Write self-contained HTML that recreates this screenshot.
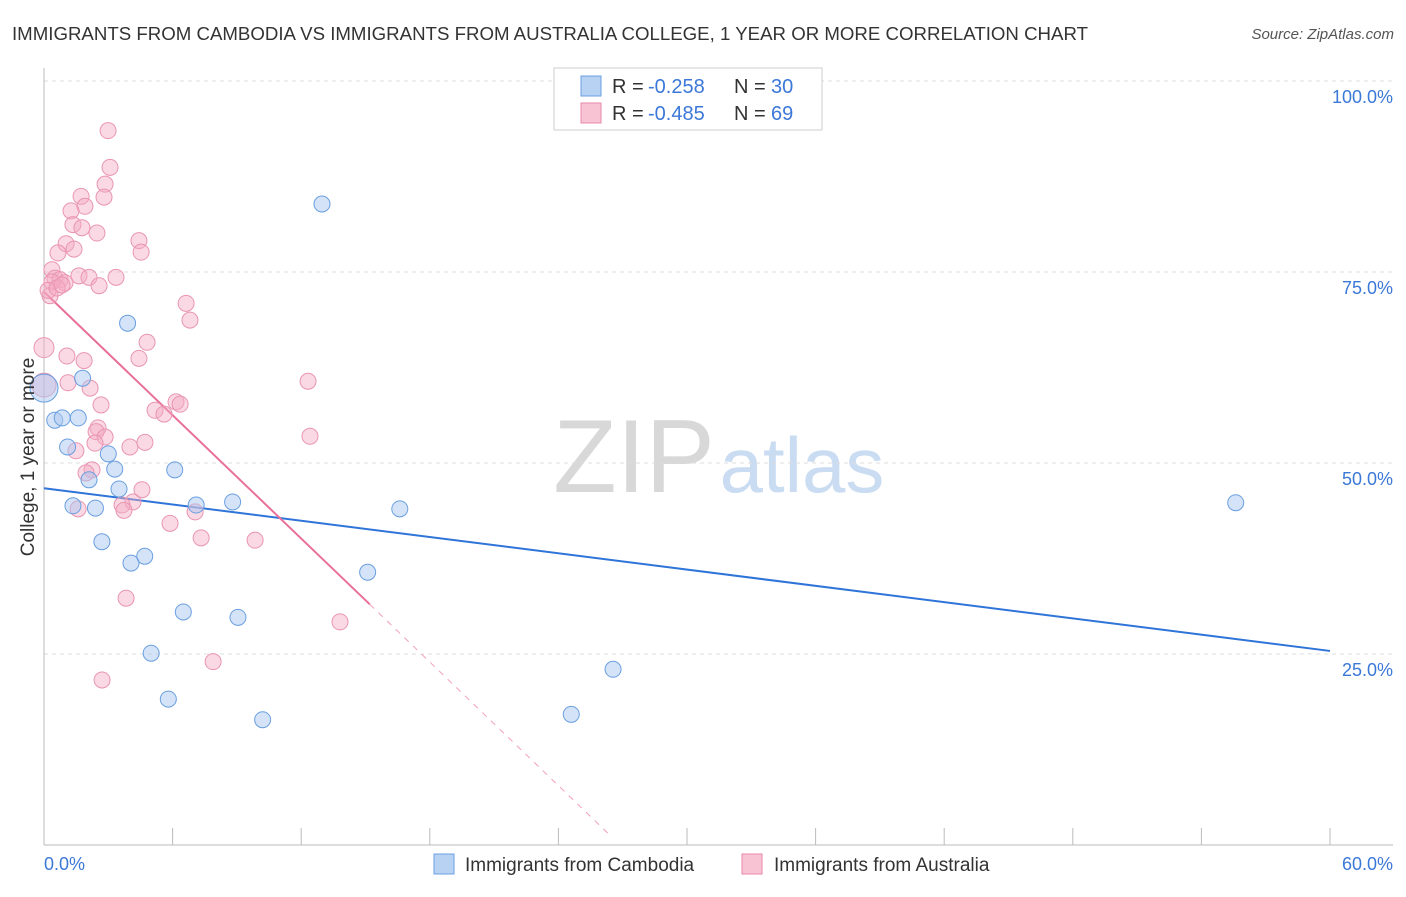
<!DOCTYPE html>
<html><head><meta charset="utf-8"><style>
body{margin:0;background:#fff;font-family:"Liberation Sans",sans-serif;}
svg text{font-family:"Liberation Sans",sans-serif;}
</style></head><body>
<svg id="chart" width="1406" height="892" xmlns="http://www.w3.org/2000/svg">
<text x="12" y="40" font-size="18" fill="#333" textLength="1076" lengthAdjust="spacingAndGlyphs">IMMIGRANTS FROM CAMBODIA VS IMMIGRANTS FROM AUSTRALIA COLLEGE, 1 YEAR OR MORE CORRELATION CHART</text>
<text x="1394" y="39" font-size="15" fill="#555" text-anchor="end" font-style="italic">Source: ZipAtlas.com</text>
<g>
<text x="634" y="492" font-size="104" fill="#d8d8d8" font-family="Liberation Serif" text-anchor="middle">ZIP</text>
<text x="802" y="492" font-size="78" fill="#c9dcf2" text-anchor="middle">atlas</text>
</g>
<g id="grid"></g>
<g id="axes"></g>
<g id="lines"></g>
<g id="pts"></g>
<text transform="translate(34,457) rotate(-90)" font-size="19" fill="#333" text-anchor="middle">College, 1 year or more</text>
<g>
<rect x="554" y="68" width="268" height="62" fill="#fff" stroke="#ccc"/>
<rect x="581" y="76" width="20" height="20" fill="#b8d2f3" stroke="#6a9fe0"/>
<rect x="581" y="103" width="20" height="20" fill="#f8c3d3" stroke="#e88aa8"/>
<text x="612" y="93" font-size="20" fill="#333">R =</text>
<text x="648" y="93" font-size="20" fill="#3b78d8">-0.258</text>
<text x="734" y="93" font-size="20" fill="#333">N =</text>
<text x="771" y="93" font-size="20" fill="#3b78d8">30</text>
<text x="612" y="120" font-size="20" fill="#333">R =</text>
<text x="648" y="120" font-size="20" fill="#3b78d8">-0.485</text>
<text x="734" y="120" font-size="20" fill="#333">N =</text>
<text x="771" y="120" font-size="20" fill="#3b78d8">69</text>
</g>
<g>
<rect x="434" y="854" width="20" height="20" fill="#b8d2f3" stroke="#6a9fe0"/>
<text x="465" y="871" font-size="19" fill="#333">Immigrants from Cambodia</text>
<rect x="742" y="854" width="20" height="20" fill="#f8c3d3" stroke="#e88aa8"/>
<text x="774" y="871" font-size="19" fill="#333">Immigrants from Australia</text>
</g>
</svg>
<script>
const yTicks=[100,75,50,25];
const yTickLabels=["100.0%","75.0%","50.0%","25.0%"];
const xTicks=[0,6,12,18,24,30,36,42,48,54,60];
const blueX=[0,0.5,0.85,1.6,1.1,1.8,3.9,1.35,2.1,2.4,3.0,3.3,3.5,2.7,4.06,4.7,6.1,7.1,6.5,5.0,5.8,8.8,9.05,10.2,12.97,15.1,16.6,24.6,26.55,55.6];
const blueY=[59.8,55.6,55.9,55.9,52.1,61.1,68.3,44.4,47.8,44.1,51.2,49.2,46.6,39.7,36.9,37.8,49.1,44.5,30.5,25.1,19.1,44.9,29.8,16.4,83.9,35.7,44.0,17.1,23.0,44.8];
const blueR=[14,8,8,8,8,8,8,8,8,8,8,8,8,8,8,8,8,8,8,8,8,8,8,8,8,8,8,8,8,8];
const pinkX=[2.99,3.08,2.85,2.80,1.73,1.91,1.26,1.35,1.77,2.47,4.43,4.53,1.03,1.40,0.65,0.37,0.51,0.75,0.98,0.37,1.63,2.10,3.36,2.57,0.28,6.63,6.81,4.81,0,1.07,4.43,1.87,1.12,2.15,12.32,2.66,5.18,6.16,6.35,5.60,2.52,2.43,2.85,4.71,2.38,4.01,12.41,1.49,2.24,1.96,4.57,4.15,3.64,3.73,1.59,7.05,5.88,7.33,9.85,3.83,13.81,7.89,2.71,0.19,0.61,0,0.84];
const pinkY=[93.5,88.7,86.5,84.8,84.9,83.6,83.0,81.2,80.8,80.1,79.1,77.6,78.7,78.0,77.5,75.3,74.2,74.0,73.6,73.7,74.5,74.3,74.3,73.2,71.9,70.9,68.7,65.8,65.1,64.0,63.7,63.4,60.5,59.8,60.7,57.6,56.9,58.0,57.7,56.4,54.6,54.1,53.4,52.7,52.6,52.1,53.5,51.6,49.1,48.7,46.5,44.9,44.5,43.8,44.0,43.6,42.1,40.2,39.9,32.3,29.2,24.0,21.6,72.6,72.9,60.2,73.3];
const blueTrend=[[0,46.7],[60,25.4]];
const pinkTrend=[[0,72.4],[15.2,31.5]];
const pinkDash=[[15.2,31.5],[26.4,1.3]];
const NS="http://www.w3.org/2000/svg";
const X=v=>44+v*(1286/60), Y=v=>845-v*7.64;
function mk(tag,attrs,parent){const e=document.createElementNS(NS,tag);for(const k in attrs)e.setAttribute(k,attrs[k]);document.getElementById(parent).appendChild(e);return e;}
yTicks.forEach((t,i)=>{
 const l=mk('line',{x1:44,x2:1393,y1:Y(t),y2:Y(t),stroke:'#ddd','stroke-dasharray':'4,4'},'grid');
 
 
 const tx=mk('text',{x:1393,y:Y(t)+22,'font-size':18,fill:'#3b78d8','text-anchor':'end'},'grid');
 tx.textContent=yTickLabels[i];
 
 
});
mk('line',{x1:44,x2:44,y1:68,y2:845,stroke:'#bbb'},'axes');
mk('line',{x1:44,x2:1393,y1:845,y2:845,stroke:'#bbb'},'axes');
xTicks.forEach(t=>{const l=mk('line',{x1:X(t),x2:X(t),y1:828,y2:845,stroke:'#bbb'},'axes');
 
 });
let a=mk('text',{x:44,y:870,'font-size':18,fill:'#3b78d8'},'axes');a.textContent='0.0%';


let b=mk('text',{x:1393,y:870,'font-size':18,fill:'#3b78d8','text-anchor':'end'},'axes');b.textContent='60.0%';


pinkX.forEach((x,i)=>{const c=mk('circle',{cx:X(x),cy:Y(pinkY[i]),r:(i==65)?12:(i==28?10:8),fill:'rgba(244,170,195,0.45)',stroke:'#e995b1','stroke-width':1},'pts');
 
 });
blueX.forEach((x,i)=>{const c=mk('circle',{cx:X(x),cy:Y(blueY[i]),r:blueR[i],fill:'rgba(169,200,240,0.5)',stroke:'#6a9fe0','stroke-width':1},'pts');
 
 });
const bl=mk('line',{x1:X(blueTrend[0][0]),y1:Y(blueTrend[0][1]),x2:X(blueTrend[1][0]),y2:Y(blueTrend[1][1]),stroke:'#2f74d8','stroke-width':2},'lines');


const pl=mk('line',{x1:X(pinkTrend[0][0]),y1:Y(pinkTrend[0][1]),x2:X(pinkTrend[1][0]),y2:Y(pinkTrend[1][1]),stroke:'#e8709a','stroke-width':2},'lines');


const pd=mk('line',{x1:X(pinkDash[0][0]),y1:Y(pinkDash[0][1]),x2:X(pinkDash[1][0]),y2:Y(pinkDash[1][1]),stroke:'#f0a0bb','stroke-width':1,'stroke-dasharray':'6,6'},'lines');


</script>
</body></html>
